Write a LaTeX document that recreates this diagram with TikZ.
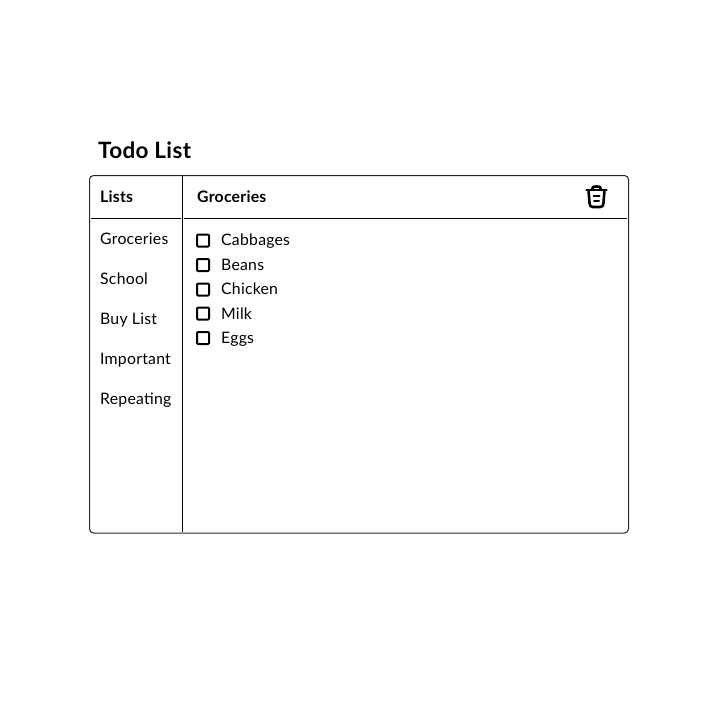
\documentclass[tikz,border=0pt]{standalone}
\usepackage{fontspec}
\setmainfont{Lato}[LetterSpace=1.5]
\tikzset{
  lbl/.style={anchor=base west,inner sep=0pt,font=\fontsize{15.8}{18}\selectfont,text=black},
  hdr/.style={anchor=base west,inner sep=0pt,font=\fontsize{15.8}{18}\selectfont\bfseries,text=black},
  ttl/.style={anchor=base west,inner sep=0pt,font=\fontsize{22.5}{26}\selectfont\bfseries,text=black},
  rule/.style={line width=1pt,black},
  chk/.style={draw=black,line width=2pt,rounded corners=1pt,minimum width=12pt,minimum height=12pt,inner sep=0pt},
  trash/.style={line width=2.6pt,black,line cap=round,line join=round}
}
\begin{document}
\begin{tikzpicture}[x=1pt,y=-1pt]
\useasboundingbox (0,0) rectangle (702,702);
\fill[white] (0,0) rectangle (702,702);
\node[ttl] (title) at (98,158) {Todo List};
\draw[line width=1pt,draw=black!85,rounded corners=4pt] (89.5,175.5) rectangle (628.5,533);
\coordinate (vt) at (182.5,176); \coordinate (vb) at (182.5,532);
\draw[rule] (vt) -- (vb);
\coordinate (h1a) at (91,218.5); \coordinate (h1b) at (181,218.5);
\coordinate (h2a) at (184,218.5); \coordinate (h2b) at (627,218.5);
\draw[rule] (h1a) -- (h1b);
\draw[rule] (h2a) -- (h2b);
\node[hdr] (lists) at (100,202) {Lists};
\node[hdr] (groc) at (197,202) {Groceries};
\node[lbl] (l1) at (100,244) {Groceries};
\node[lbl] (l2) at (100,284) {School};
\node[lbl] (l3) at (100,324) {Buy List};
\node[lbl] (l4) at (100,364) {Important};
\node[lbl] (l5) at (100,404) {Repeating};
\node[chk] (c1) at (203,240.5) {};
\node[chk] (c2) at (203,265) {};
\node[chk] (c3) at (203,289.5) {};
\node[chk] (c4) at (203,313.5) {};
\node[chk] (c5) at (203,338) {};
\node[lbl] (t1) at (221,245.5) {Cabbages};
\node[lbl] (t2) at (221,270) {Beans};
\node[lbl] (t3) at (221,294.5) {Chicken};
\node[lbl] (t4) at (221,319) {Milk};
\node[lbl] (t5) at (221,343.5) {Eggs};
% trash icon
\draw[trash] (586.5,190) -- (606.5,190);
\draw[trash] (592,190) .. controls (592,187) and (593,186.5) .. (596.5,186.5) .. controls (600,186.5) and (601,187) .. (601,190);
\draw[trash] (588.5,190) -- (589.5,203) .. controls (589.5,206) and (590.5,207) .. (593,207) -- (600,207) .. controls (602.5,207) and (603.5,206) .. (603.5,203) -- (604.5,190);
\draw[line width=2pt,black,line cap=round] (593.5,195.5) -- (599.5,195.5);
\draw[line width=2pt,black,line cap=round] (594,200.5) -- (599,200.5);
\end{tikzpicture}
\end{document}
